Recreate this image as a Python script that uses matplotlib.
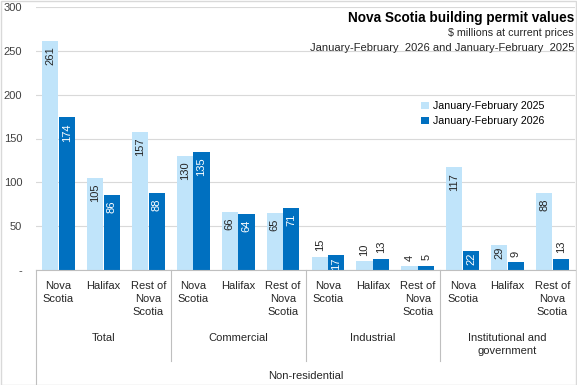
import matplotlib
matplotlib.use("Agg")
import matplotlib.pyplot as plt
from matplotlib.lines import Line2D
from matplotlib.patches import Rectangle

plt.rcParams['font.family'] = ['Liberation Sans', 'DejaVu Sans']

# data ($ millions)
regions = ["Nova\nScotia", "Halifax", "Rest of\nNova\nScotia"]
groups = ["Total", "Commercial", "Industrial", "Institutional and\ngovernment"]
top_group = "Non-residential"
jf_2025 = [261, 105, 157, 130, 66, 65, 15, 10, 4, 117, 29, 88]
jf_2026 = [174, 86, 88, 135, 64, 71, 17, 13, 5, 22, 9, 13]
yticks = [0, 50, 100, 150, 200, 250, 300]
ytick_labels = ["-", "50", "100", "150", "200", "250", "300"]

light = "#C0E4FA"
dark = "#0070C0"
txt = "#262626"
grid = "#D9D9D9"

W, H = 577, 385
fig = plt.figure(figsize=(W / 100, H / 100), dpi=100)

# axes placement in pixels
x0, x1 = 36, 575
y_top, y_zero = 7, 270
ax = fig.add_axes([x0 / W, 1 - y_zero / H, (x1 - x0) / W, (y_zero - y_top) / H])

n = len(jf_2025)
xs = list(range(n))
bw = 0.36
off = 0.185
b1 = ax.bar([x - off for x in xs], jf_2025, bw, color=light, zorder=2)
b2 = ax.bar([x + off for x in xs], jf_2026, bw, color=dark, zorder=2)

ax.set_xlim(-0.5, n - 0.5)
ax.set_ylim(0, 300)
ax.set_yticks(yticks)
ax.set_yticklabels(ytick_labels, fontsize=8, color="#404040")
ax.tick_params(axis='y', length=0, pad=10)
ax.set_xticks([])
ax.yaxis.grid(True, color=grid, lw=0.8, zorder=0)
for s in ax.spines.values():
    s.set_visible(False)

# data labels
def label(bars, vals, inside_col):
    for b, v in zip(bars, vals):
        cx = b.get_x() + b.get_width() / 2
        if v >= 16:
            gap = -4 if v >= 30 else -1.5
            ax.annotate(str(v), (cx, v), xytext=(0, gap), textcoords="offset points",
                        rotation=90, ha="center", va="top", fontsize=8, color=inside_col)
        else:
            ax.annotate(str(v), (cx, v), xytext=(0, 4), textcoords="offset points",
                        rotation=90, ha="center", va="bottom", fontsize=8, color=txt)

label(b1, jf_2025, txt)
label(b2, jf_2026, "white")

# category axis below plot
def fy(py):
    return 1 - py / H

def fx(px):
    return px / W

def xpix(xd):
    return x0 + (xd + 0.5) * (x1 - x0) / n

for i in range(n):
    fig.text(fx(xpix(i)), fy(281), regions[i % 3], ha="center", va="top",
             fontsize=8, color=txt, linespacing=1.4)
for g, name in enumerate(groups):
    fig.text(fx(xpix(3 * g + 1)), fy(333), name, ha="center", va="top",
             fontsize=8, color=txt, linespacing=1.4)
fig.text(fx((x0 + x1) / 2), fy(371), top_group, ha="center", va="top",
         fontsize=8, color=txt)

lc = "#BFBFBF"
fig.add_artist(Line2D([fx(x0), fx(x1)], [fy(y_zero), fy(y_zero)], color=lc, lw=0.8))
fig.add_artist(Line2D([fx(x0), fx(x0)], [fy(y_zero), fy(384)], color=lc, lw=0.8))
for g in range(1, 4):
    px = x0 + 3 * g * (x1 - x0) / n
    fig.add_artist(Line2D([fx(px), fx(px)], [fy(y_zero), fy(361)], color=lc, lw=0.8))

# chart border
fig.add_artist(Rectangle((0.001, 0.001), 0.997, 0.997, transform=fig.transFigure,
                         fill=False, edgecolor="#D9D9D9", lw=1))

# titles
fig.text(fx(574), fy(11), "Nova Scotia building permit values", ha="right", va="top",
         fontsize=9.8, fontweight="bold", color="black")
fig.text(fx(574), fy(28), "$ millions at current prices", ha="right", va="top",
         fontsize=7.7, color=txt)
fig.text(fx(574), fy(43), "January-February  2026 and January-February  2025", ha="right",
         va="top", fontsize=8, color=txt)

# legend
ax.legend([b1, b2], ["January-February 2025", "January-February 2026"],
          loc="upper left", bbox_to_anchor=((416 - x0) / (x1 - x0), (y_zero - 96) / (y_zero - y_top)),
          frameon=False, fontsize=7.7, handlelength=0.7, handleheight=0.7,
          handletextpad=0.4, labelspacing=0.45, borderpad=0)

fig.savefig("out.png", dpi=100)
